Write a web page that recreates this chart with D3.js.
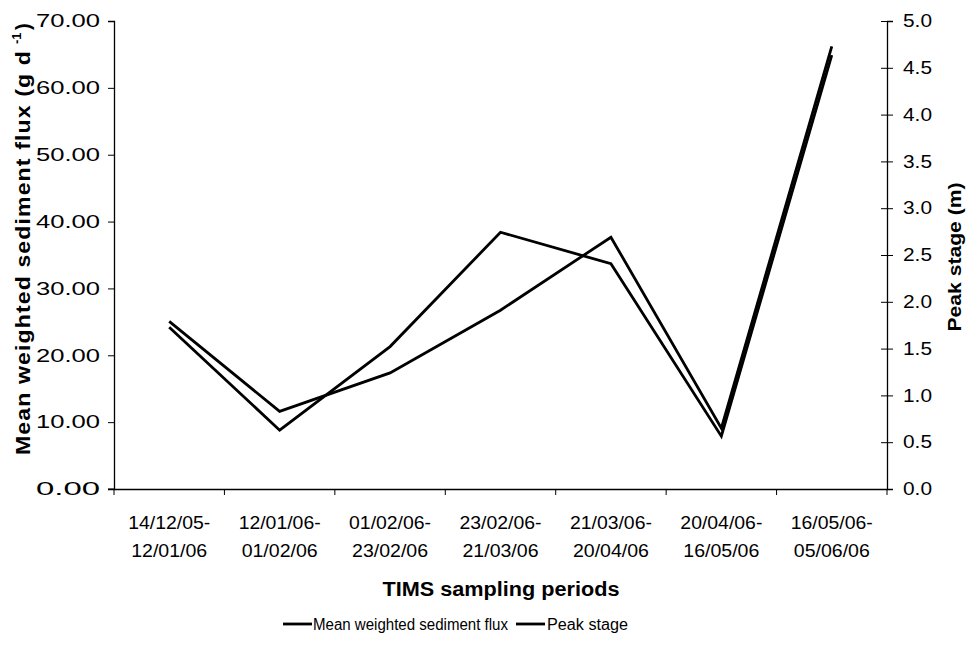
<!DOCTYPE html>
<html><head><meta charset="utf-8">
<script src="https://cdn.jsdelivr.net/npm/d3@7"></script>
<style>body{margin:0;background:#fff}svg{display:block}text{font-family:"Liberation Sans",Arial,sans-serif;fill:#000}</style>
</head><body><svg id="c" width="969" height="657"></svg>
<script>
const categories = [["14/12/05-","12/01/06"],["12/01/06-","01/02/06"],["01/02/06-","23/02/06"],["23/02/06-","21/03/06"],["21/03/06-","20/04/06"],["20/04/06-","16/05/06"],["16/05/06-","05/06/06"]];
const fluxValues = [24.2, 8.8, 21.3, 38.4, 33.7, 7.9, 64.9];
const stageValues = [1.79, 0.83, 1.24, 1.91, 2.69, 0.65, 4.73];
const leftTicks = [0,10,20,30,40,50,60,70];
const rightTicks = [0,0.5,1,1.5,2,2.5,3,3.5,4,4.5,5];

const svg = d3.select("#c");
const L = 114, R = 887, T = 21, B = 489;
const x = d3.scaleBand().domain(d3.range(categories.length)).range([L, R]);
const yL = d3.scaleLinear().domain([0,70]).range([B, T]);
const yR = d3.scaleLinear().domain([0,5]).range([B, T]);

// axes
const gL = svg.append("g").attr("transform",`translate(${L},0)`)
  .call(d3.axisLeft(yL).tickValues(leftTicks).tickSize(6).tickFormat(d3.format(".2f")));
gL.selectAll("text").attr("font-size",18).attr("x",-14).attr("textLength",64).attr("lengthAdjust","spacingAndGlyphs");
const gR = svg.append("g").attr("transform",`translate(${R},0)`)
  .call(d3.axisRight(yR).tickValues(rightTicks).tickSize(6).tickFormat(d3.format(".1f")));
gR.selectAll("line").attr("x1",-6);
gR.selectAll("text").attr("font-size",18).attr("x",16).attr("textLength",29).attr("lengthAdjust","spacingAndGlyphs");
const gX = svg.append("g").attr("transform",`translate(0,${B})`)
  .call(d3.axisBottom(x).tickSize(0).tickFormat(""));
gX.selectAll(".bt").data(d3.range(categories.length+1)).enter().append("line")
  .attr("x1",i=>L+i*x.step()).attr("x2",i=>L+i*x.step()).attr("y1",0).attr("y2",6).attr("stroke","#000");
gX.append("line").attr("x1",L-6).attr("x2",L).attr("y1",0).attr("y2",0).attr("stroke","#000");
svg.selectAll(".domain").attr("stroke","#000").attr("stroke-width",1.3);
svg.selectAll(".tick line").attr("stroke","#000");

// x labels
const xl = svg.append("g");
categories.forEach((c,i)=>{
  const mx = x(i)+x.bandwidth()/2;
  xl.append("text").attr("x",mx).attr("y",529).attr("text-anchor","middle").attr("font-size",18)
    .attr("textLength",82).attr("lengthAdjust","spacingAndGlyphs").text(c[0]);
  xl.append("text").attr("x",mx).attr("y",557).attr("text-anchor","middle").attr("font-size",18)
    .attr("textLength",76).attr("lengthAdjust","spacingAndGlyphs").text(c[1]);
});

// lines
const cx = i => x(i)+x.bandwidth()/2;
svg.append("path").datum(fluxValues).attr("fill","none").attr("stroke","#000").attr("stroke-width",2.8)
  .attr("stroke-linejoin","miter").attr("d", d3.line().x((d,i)=>cx(i)).y(d=>yL(d)));
svg.append("path").datum(stageValues).attr("fill","none").attr("stroke","#000").attr("stroke-width",2.8)
  .attr("stroke-linejoin","miter").attr("d", d3.line().x((d,i)=>cx(i)).y(d=>yR(d)));

// titles
svg.append("text").attr("x",501).attr("y",596).attr("text-anchor","middle").attr("font-size",20).attr("font-weight","bold")
  .attr("textLength",237).attr("lengthAdjust","spacingAndGlyphs").text("TIMS sampling periods");
const lt = svg.append("g").attr("transform","translate(30,0) rotate(-90)");
lt.append("text").attr("x",-455).attr("y",0).attr("font-size",20).attr("font-weight","bold").attr("letter-spacing",1)
  .attr("textLength",405).attr("lengthAdjust","spacingAndGlyphs").text("Mean weighted sediment flux (g d");
lt.append("text").attr("x",-44).attr("y",-9).attr("font-size",13).attr("font-weight","bold").text("-1");
lt.append("text").attr("x",-30).attr("y",0).attr("font-size",20).attr("font-weight","bold").text(")");
svg.append("text").attr("transform","translate(961,257) rotate(-90)").attr("text-anchor","middle").attr("font-size",19).attr("font-weight","bold")
  .attr("textLength",149).attr("lengthAdjust","spacingAndGlyphs").text("Peak stage (m)");

// legend
const lg = svg.append("g");
lg.append("line").attr("x1",283).attr("x2",312).attr("y1",624).attr("y2",624).attr("stroke","#000").attr("stroke-width",2.8);
lg.append("text").attr("x",313).attr("y",630).attr("font-size",16).attr("textLength",195).attr("lengthAdjust","spacingAndGlyphs").text("Mean weighted sediment flux");
lg.append("line").attr("x1",516).attr("x2",545).attr("y1",624).attr("y2",624).attr("stroke","#000").attr("stroke-width",2.8);
lg.append("text").attr("x",547).attr("y",630).attr("font-size",16).attr("textLength",81).attr("lengthAdjust","spacingAndGlyphs").text("Peak stage");
</script></body></html>
